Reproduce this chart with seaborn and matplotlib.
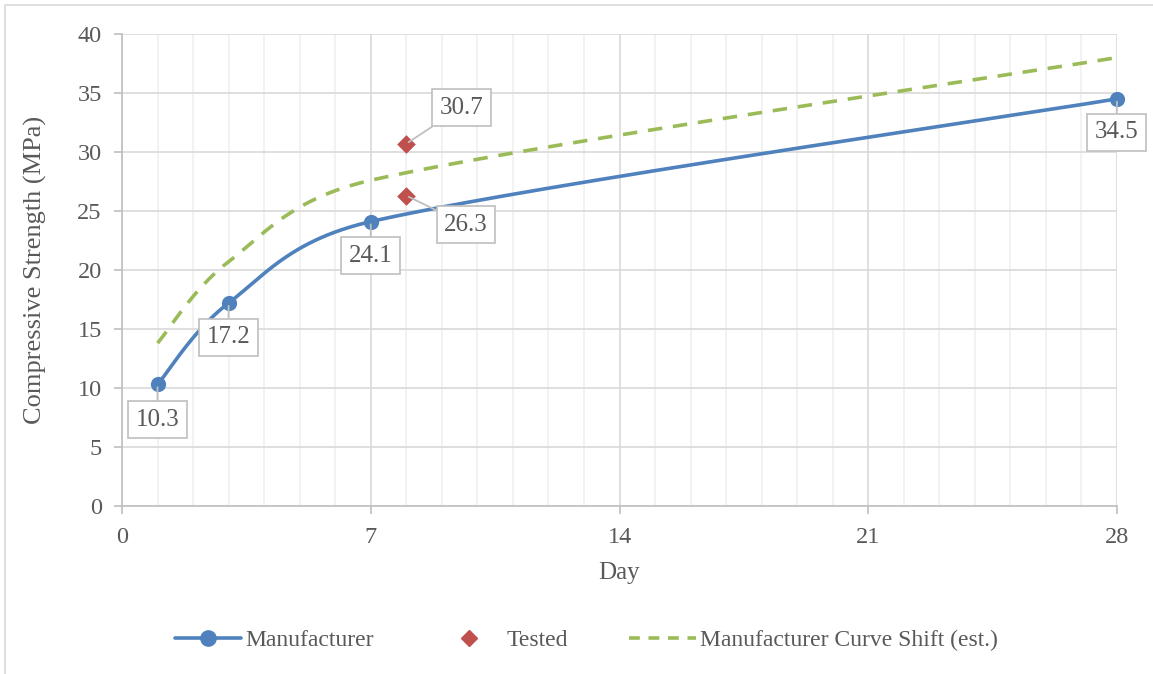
import numpy as np
import matplotlib
matplotlib.use("Agg")
import matplotlib.pyplot as plt
from matplotlib.patches import Rectangle
from matplotlib.lines import Line2D
from matplotlib.ticker import MultipleLocator
import seaborn as sns

# Manufacturer strength-gain data (day, MPa)
mfr_days = [1, 3, 7, 28]
mfr_strength = [10.3, 17.2, 24.1, 34.5]

# Cylinder test results
test_days = [8, 8]
test_strength = [30.7, 26.3]

# Manufacturer curve shifted up to follow the tests (estimate)
shift_days = [1, 3, 7, 28]
shift_strength = [13.8, 20.7, 27.6, 38.0]

BLUE = "#4F81BD"
RED = "#C0504D"
GREEN = "#9BBB59"
TEXT = "#595959"


def smooth_curve(ax, xs, ys, n=80):
    """Bezier smoothing computed in display space, spreadsheet style:
    control handles are 1/6 of the neighbouring chord, capped at half the segment."""
    tr = ax.transData
    p = tr.transform(np.column_stack([xs, ys]).astype(float))
    ext = np.vstack([p[0], p, p[-1]])
    t = np.linspace(0, 1, n)[:, None]
    out = []
    for i in range(len(p) - 1):
        a, b = ext[i + 1], ext[i + 2]
        seg_len = np.linalg.norm(b - a)
        o1 = (ext[i + 2] - ext[i]) / 6.0
        o2 = (ext[i + 3] - ext[i + 1]) / 6.0
        if np.linalg.norm(o1) > seg_len / 2:
            o1 = o1 / np.linalg.norm(o1) * seg_len / 2
        if np.linalg.norm(o2) > seg_len / 2:
            o2 = o2 / np.linalg.norm(o2) * seg_len / 2
        c1, c2 = a + o1, b - o2
        seg = (1 - t) ** 3 * a + 3 * (1 - t) ** 2 * t * c1 + 3 * (1 - t) * t ** 2 * c2 + t ** 3 * b
        out.append(seg if i == 0 else seg[1:])
    d = tr.inverted().transform(np.vstack(out))
    return d[:, 0], d[:, 1]


sns.set_theme(style="white")
plt.rcParams["font.family"] = ["Liberation Serif", "DejaVu Serif"]

fig = plt.figure(figsize=(11.53, 6.74), dpi=100)
ax = fig.add_axes([0.1058, 0.2493, 0.8630, 0.7003])
ax.set_xlim(0, 28)
ax.set_ylim(0, 40)

# outer chart border
fig.patches.append(Rectangle((5 / 1153, -0.01), 1.2, (674 - 5) / 674 + 0.01,
                             transform=fig.transFigure, fill=False,
                             edgecolor="#D9D9D9", linewidth=1.2, zorder=0))

mx, my = smooth_curve(ax, mfr_days, mfr_strength)
gx, gy = smooth_curve(ax, shift_days, shift_strength)

sns.lineplot(x=gx, y=gy, ax=ax, color=GREEN, linewidth=2.6, sort=False,
             linestyle=(0, (4, 3)), zorder=3)
sns.lineplot(x=mx, y=my, ax=ax, color=BLUE, linewidth=2.6, sort=False, zorder=4)
sns.scatterplot(x=mfr_days, y=mfr_strength, ax=ax, color=BLUE, s=120,
                edgecolor=BLUE, linewidth=0, zorder=5, clip_on=False)
sns.scatterplot(x=test_days, y=test_strength, ax=ax, color=RED, marker="D",
                s=90, edgecolor=RED, linewidth=0, zorder=5)

ax.set_xlim(0, 28)
ax.set_ylim(0, 40)
ax.xaxis.set_major_locator(MultipleLocator(7))
ax.xaxis.set_minor_locator(MultipleLocator(1))
ax.yaxis.set_major_locator(MultipleLocator(5))
ax.grid(which="major", axis="both", color="#D9D9D9", linewidth=1.2, zorder=0)
ax.grid(which="minor", axis="x", color="#F0F0F0", linewidth=1.2, zorder=0)
ax.set_axisbelow(True)
for side in ["top", "right"]:
    ax.spines[side].set_visible(False)
for side in ["left", "bottom"]:
    ax.spines[side].set_color("#BFBFBF")
    ax.spines[side].set_linewidth(1.2)
ax.tick_params(axis="both", which="major", direction="out", length=6, width=1.2,
               color="#BFBFBF", labelsize=17.5, labelcolor=TEXT)
ax.tick_params(axis="y", which="major", pad=8.5)
ax.tick_params(axis="x", which="major", pad=9)
ax.tick_params(axis="both", which="minor", length=0)
ax.tick_params(left=True, bottom=True)

ax.set_xlabel("Day", fontsize=18, color=TEXT, labelpad=10)
ax.set_ylabel("Compressive Strength (MPa)", fontsize=19, color=TEXT, labelpad=22)

box = dict(boxstyle="square,pad=0.3", facecolor="white", edgecolor="#BFBFBF", linewidth=1.2)
arrow = dict(arrowstyle="-", color="#BFBFBF", linewidth=1.3, shrinkA=0, shrinkB=2)

# value labels (offsets in points)
mfr_offsets = [(0, -25.5), (0, -24.5), (0, -24.5), (-0.5, -24)]
for x, y, off in zip(mfr_days, mfr_strength, mfr_offsets):
    ax.annotate(f"{y:.1f}", (x, y), xytext=off, textcoords="offset points",
                ha="center", va="center", fontsize=18, color=TEXT,
                bbox=box, arrowprops=arrow, zorder=6, annotation_clip=False)
test_offsets = [(39.5, 26), (43, -21)]
for x, y, off in zip(test_days, test_strength, test_offsets):
    ax.annotate(f"{y:.1f}", (x, y), xytext=off, textcoords="offset points",
                ha="center", va="center", fontsize=18, color=TEXT,
                bbox=box, arrowprops=arrow, zorder=6)

handles = [
    Line2D([], [], color=BLUE, linewidth=2.6, marker="o", markersize=11),
    Line2D([], [], color=RED, linestyle="none", marker="D", markersize=8.5),
    Line2D([], [], color=GREEN, linewidth=2.6, linestyle=(0, (3, 2.4))),
]
labels = ["Manufacturer", "Tested", "Manufacturer Curve Shift (est.)"]
fig.legend(handles, labels, loc="center", bbox_to_anchor=(0.5087, 1 - 640 / 674),
           ncol=3, frameon=False, fontsize=17, labelcolor=TEXT,
           handlelength=2.8, handletextpad=0.2, columnspacing=2.6)

fig.savefig("out.png", dpi=100)
